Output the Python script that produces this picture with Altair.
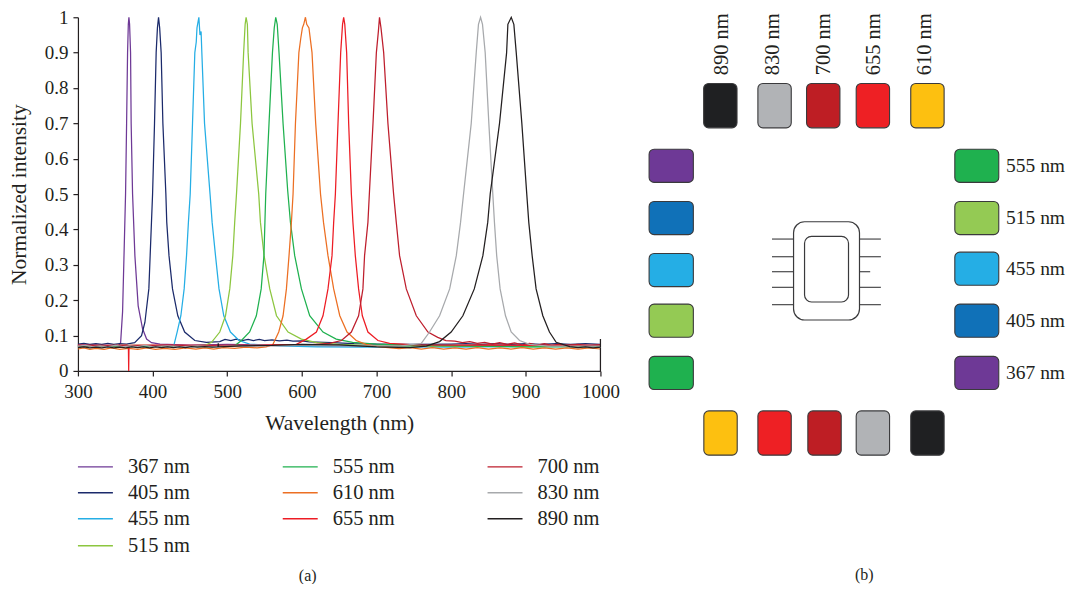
import altair as alt
import pandas as pd

# ---- spectra: (wavelength nm, normalized intensity) ----
s367 = [(300,.073),(320,.074),(340,.072),(355,.073),(357.2,.08),(359.8,.167),(361.6,.316),(363.8,.5),(365.2,.7),(366.5,.9),(367.5,.98),(368.3,1),(369.2,.98),
        (370.5,.9),(371.3,.7),(373.2,.5),(376.3,.326),(380.7,.184),(386.6,.119),(392,.09),(398.6,.08),(410,.076),(450,.073),(500,.075),
        (560,.073),(620,.071),(700,.070),(780,.071),(860,.072),(940,.071),(1000,.072)]
s405 = [(300,.076),(308,.078),(316,.075),(324,.077),(332,.075),(340,.078),(348,.075),(356,.077),(365,.076),(376,.08),(385.2,.1),(389.7,.137),(395,.232),(400,.5),(402.6,.7),(404.8,.9),(406.5,.97),(408,1),(409.5,.97),
        (411.5,.9),(413.8,.7),(417.8,.5),(419,.42),(422,.326),(426.7,.232),(433.8,.156),(443,.11),(456.6,.086),(472,.081),(490,.083),
        (497,.089),(505,.086),(512,.09),(520,.086),(528,.089),(535,.086),(543,.089),(550,.086),(560,.088),(570,.085),(580,.087),(588,.084),(600,.085),(610,.082),(640,.08),(670,.077),(700,.076),(750,.075),(800,.076),
        (820,.077),(840,.075),(860,.077),(880,.075),(900,.077),(920,.075),(940,.077),(960,.075),(980,.077),(1000,.075)]
s455 = [(300,.07),(350,.071),(400,.07),(428.5,.072),(432.9,.11),(437.9,.156),(442.3,.232),(445.5,.326),(448,.42),(450.4,.5),(453.5,.7),
        (456.6,.9),(458.5,.93),(459.5,.97),(462,1),(463.5,.95),(465,.96),(466,.9),(469.6,.7),(477,.5),(479.8,.42),(484.3,.326),(489,.232),
        (495.4,.156),(504.3,.11),(515.9,.086),(530,.076),(570,.071),(620,.068),(680,.067),(730,.068),(800,.067),(880,.069),(1000,.069)]
s515 = [(300,.071),(380,.072),(440,.071),(470,.072),(479,.081),(490,.11),(497.7,.156),(503.4,.232),(507.5,.326),(510,.42),(512.4,.5),(517.8,.7),
        (522,.9),(524,.98),(525.3,1),(527,.98),(528,.9),(533.3,.7),(542.2,.5),(544.5,.42),(549.4,.326),(557,.232),(566,.156),(581.5,.11),
        (599.4,.09),(620,.08),(650,.075),(700,.071),(800,.07),(900,.069),(1000,.07)]
s555 = [(300,.069),(400,.07),(480,.069),(510,.071),(519,.086),(530,.11),(539,.156),(545.5,.232),(549.2,.326),(550.5,.42),(551.6,.5),(556,.7),
        (560.6,.9),(563,.97),(565,1),(567,.98),(569.4,.9),(574.8,.7),(581,.51),(584.7,.42),(590.4,.326),(599.4,.232),(610.5,.156),(628.3,.11),
        (646,.09),(668,.081),(700,.076),(750,.072),(820,.07),(900,.068),(1000,.069)]
s610 = [(300,.062),(308,.065),(316,.061),(324,.064),(335,.061),(345,.065),(356,.061),(368,.064),(380,.061),(392,.065),(404,.061),(416,.064),
        (430,.061),(444,.065),(458,.062),(470,.065),(482,.062),(495,.066),(510,.064),(525,.067),(540,.065),(552,.068),(561,.074),(569,.11),
        (574.8,.156),(579.3,.232),(582.8,.326),(586,.42),(588.2,.5),(591.4,.7),(596,.9),(598.5,.94),(600.7,.97),(602.5,.98),(604.8,1),(606.5,.98),(609.5,.97),
        (613.6,.9),(618.5,.7),(625,.5),(629,.42),(635,.326),(642.6,.232),(650.8,.156),(660.5,.11),(672.8,.086),(686,.075),(705,.068),
        (730,.063),(745,.066),(760,.062),(775,.066),(790,.062),(805,.065),(820,.062),(835,.066),(850,.062),(865,.065),(880,.062),(895,.066),(910,.062),(925,.065),(940,.062),(955,.065),(970,.062),(985,.065),(1000,.062)]
s655 = [(300,.073),(340,.072),(366,.073),(367.6,.07),(368,0),(368.4,.07),(370,.072),(420,.073),(480,.072),(540,.073),(592.7,.075),(606,.09),(619.5,.11),
        (628.3,.156),(635,.232),(640.4,.326),(642.6,.42),(644.9,.5),(648.4,.7),(652,.9),(654.5,.98),(656,1),(657.5,.98),(660,.9),(662.7,.7),(666.3,.5),(668.4,.42),
        (671.6,.326),(676,.232),(681,.156),(688.5,.11),(701.9,.086),(717.6,.078),(750,.074),(800,.073),(850,.074),(900,.072),(1000,.073)]
s700 = [(300,.071),(400,.072),(500,.071),(600,.072),(637,.078),(653,.086),(666.3,.11),(676,.156),(681.8,.232),(684,.326),(688.5,.42),(690.4,.5),
        (695.3,.7),(699.8,.9),(702.5,.96),(704,1),(706,.97),(709.6,.9),(715.3,.7),(722.9,.5),(726.5,.42),(730.9,.326),(739.9,.232),(753.3,.156),
        (768.9,.11),(782,.095),(793,.086),(805,.084),(815,.08),(825,.083),(835,.078),(845,.081),(855,.076),(865,.08),(875,.075),(885,.079),(895,.074),(905,.078),(915,.073),(925,.077),(935,.072),(945,.076),(955,.072),(970,.075),(985,.071),(1000,.074)]
s830 = [(300,.07),(310,.072),(320,.069),(330,.071),(340,.069),(350,.072),(360,.069),(370,.071),(380,.069),(390,.072),(400,.069),(420,.071),(440,.069),(460,.071),(480,.069),(500,.07),(600,.072),(680,.071),(730,.07),(760,.078),(771,.11),(784.5,.156),(798,.232),(806.9,.326),(812.6,.42),
        (816.6,.5),(826.9,.7),(833.6,.9),(836.6,.98),(839.4,1),(842,.98),(845.6,.9),(850.5,.7),(855.8,.5),(858,.42),(861,.326),(865.6,.232),(872.8,.156),
        (880.4,.11),(891.6,.086),(905,.075),(930,.07),(1000,.07)]
s890 = [(300,.066),(308,.068),(316,.065),(324,.067),(332,.065),(340,.068),(348,.065),(356,.067),(364,.065),(372,.068),(380,.066),(388,.068),(396,.065),(404,.068),(412,.066),(420,.068),(428,.066),(436,.068),(444,.066),(452,.069),(460,.067),(470,.069),(480,.067),(487.5,.068),(488,.078),(488.5,.068),
        (520,.071),(560,.072),(600,.075),(650,.074),(700,.068),(745,.066),(766.7,.07),(784.5,.083),(800,.11),
        (815.7,.156),(831,.232),(842.5,.326),(849,.42),(852.3,.5),(864.8,.7),(874.3,.9),(876,.98),(880.5,1),(884,.98),(887.2,.9),(894.7,.7),(901.3,.5),
        (904,.42),(908.5,.326),(913.8,.232),(922.8,.156),(931.7,.11),(940.7,.081),(959,.069),(970,.066),(980,.068),(990,.065),(1000,.067),(1000,.09),(1000,0)]

series_names = ["367 nm","405 nm","455 nm","515 nm","555 nm","610 nm","655 nm","700 nm","830 nm","890 nm"]
series_data = [s367,s405,s455,s515,s555,s610,s655,s700,s830,s890]
line_colors = ["#6e3996","#1b2a6b","#25aee5","#8cc63f","#1fb14f","#ec6f23","#ed1c24","#be1e2d","#a7a9ac","#231f20"]

rows = []
for name, pts in zip(series_names, series_data):
    for i, (w, v) in enumerate(pts):
        rows.append({"name": name, "i": i, "w": w, "v": v})
spectra = pd.DataFrame(rows)

SERIF = "Liberation Serif"
INK = "#231f20"
TXT = 20.5
TICK = 19
BOTTOM = 584

plot_a = alt.Chart(spectra).mark_line(strokeWidth=1.25, clip=False).encode(
    x=alt.X("w:Q", scale=alt.Scale(domain=[300, 1000], nice=False),
            axis=alt.Axis(title="Wavelength (nm)", values=[300,400,500,600,700,800,900,1000], format="d",
                          grid=False, tickSize=5, labelFlush=False, labelPadding=7, titlePadding=11,
                          titleFontSize=21.5)),
    y=alt.Y("v:Q", scale=alt.Scale(domain=[0, 1], nice=False),
            axis=alt.Axis(title="Normalized intensity", values=[0,.1,.2,.3,.4,.5,.6,.7,.8,.9,1], format="~g",
                          grid=False, tickSize=5, labelPadding=5, titlePadding=14, titleFontSize=21.5)),
    color=alt.Color("name:N", scale=alt.Scale(domain=series_names, range=line_colors), legend=None),
    order=alt.Order("i:Q"),
).properties(width=523, height=354)

# ---- hand-built legend of panel (a) ----
leg_col = [0,0,0,0,1,1,1,2,2,2]
leg_row = [0,1,2,3,0,1,2,0,1,2]
leg_col_left = [78, 283, 488]
leg_col_right = [113, 318, 523]
leg_col_text = [128, 333, 538]
leg_row_y = [467, 493, 519, 546]
legend_table = pd.DataFrame({
    "name": series_names,
    "color": line_colors,
    "x1": [leg_col_left[c] for c in leg_col],
    "x2": [leg_col_right[c] for c in leg_col],
    "xt": [leg_col_text[c] for c in leg_col],
    "y": [leg_row_y[r] for r in leg_row],
})
lx = alt.Scale(domain=[78, 601], nice=False)
ly = alt.Scale(domain=[BOTTOM, 442], nice=False)
legend_lines = alt.Chart(legend_table).mark_rule(strokeWidth=1.4).encode(
    x=alt.X("x1:Q", scale=lx, axis=None), x2="x2:Q",
    y=alt.Y("y:Q", scale=ly, axis=None), color=alt.Color("color:N", scale=None))
legend_text = alt.Chart(legend_table).mark_text(align="left", baseline="middle", font=SERIF, fontSize=TXT, color=INK).encode(
    x=alt.X("xt:Q", scale=lx, axis=None), y=alt.Y("y:Q", scale=ly, axis=None), text="name:N")
cap_a = alt.Chart(pd.DataFrame({"x": [308], "y": [576], "t": ["(a)"]})).mark_text(
    font=SERIF, fontSize=16, color=INK, baseline="middle").encode(
    x=alt.X("x:Q", scale=lx, axis=None), y=alt.Y("y:Q", scale=ly, axis=None), text="t:N")
legend_panel = alt.layer(legend_lines, legend_text, cap_a).properties(width=523, height=BOTTOM-442)

# ---- panel (b): LED ring schematic, in its own schematic units ----
bx = alt.Scale(domain=[640, 1067], nice=False)
by = alt.Scale(domain=[BOTTOM, 18], nice=False)

top_names = ["890 nm","830 nm","700 nm","655 nm","610 nm"]
top_x = [720, 774.3, 823, 872.7, 927.3]
top_text_x = [721.5, 772.7, 823.7, 874, 925]
bottom_x = [720.2, 774.3, 824.3, 872.7, 927.3]
side_y_left = [166.7, 219, 271, 321.7, 374]
side_y_right = [166.7, 219, 269.7, 321.7, 374]
right_names = ["555 nm","515 nm","455 nm","405 nm","367 nm"]
top_colors = ["#1f2022","#b1b3b6","#be1e24","#ee2024","#fdc010"]
bottom_colors = ["#fdc010","#ee2024","#be1e24","#b1b3b6","#1f2022"]
left_colors = ["#6e3996","#1071b8","#25aee5","#94ca54","#1fb14f"]
right_colors = ["#1fb14f","#94ca54","#25aee5","#1071b8","#6e3996"]

boxes = []
for x, c in zip(top_x, top_colors):
    boxes.append(dict(x1=x-16.7, x2=x+16.7, y1=84.3, y2=128.7, c=c))
for x, c in zip(bottom_x, bottom_colors):
    boxes.append(dict(x1=x-16.7, x2=x+16.7, y1=412, y2=456.3, c=c))
for y, c in zip(side_y_left, left_colors):
    boxes.append(dict(x1=648.7, x2=693, y1=y-16.6, y2=y+16.6, c=c))
for y, c in zip(side_y_right, right_colors):
    boxes.append(dict(x1=954.7, x2=998.7, y1=y-16.6, y2=y+16.6, c=c))
boxes = pd.DataFrame(boxes)

box_layer = alt.Chart(boxes).mark_rect(cornerRadius=5, stroke="#3a3a3c", strokeWidth=1.1).encode(
    x=alt.X("x1:Q", scale=bx, axis=None), x2="x2:Q",
    y=alt.Y("y1:Q", scale=by, axis=None), y2="y2:Q",
    color=alt.Color("c:N", scale=None))

right_text = alt.Chart(pd.DataFrame({"x": [1006]*5, "y": side_y_right, "t": right_names})).mark_text(
    align="left", baseline="middle", font=SERIF, fontSize=19.5, color=INK).encode(
    x=alt.X("x:Q", scale=bx, axis=None), y=alt.Y("y:Q", scale=by, axis=None), text="t:N")
top_text = alt.Chart(pd.DataFrame({"x": top_text_x, "y": [76]*5, "t": top_names})).mark_text(
    align="left", baseline="middle", angle=270, font=SERIF, fontSize=TXT, color=INK).encode(
    x=alt.X("x:Q", scale=bx, axis=None), y=alt.Y("y:Q", scale=by, axis=None), text="t:N")

chip = pd.DataFrame({"x1": [793.3, 804.3], "x2": [859.3, 848.3], "y1": [222.7, 237.3], "y2": [321, 303]})
chip_outer = alt.Chart(chip.iloc[[0]]).mark_rect(cornerRadius=11, fill="white", stroke="#3a3a3c", strokeWidth=1.2).encode(
    x=alt.X("x1:Q", scale=bx, axis=None), x2="x2:Q", y=alt.Y("y1:Q", scale=by, axis=None), y2="y2:Q")
chip_inner = alt.Chart(chip.iloc[[1]]).mark_rect(cornerRadius=7, fill="white", stroke="#3a3a3c", strokeWidth=1.2).encode(
    x=alt.X("x1:Q", scale=bx, axis=None), x2="x2:Q", y=alt.Y("y1:Q", scale=by, axis=None), y2="y2:Q")

pin_y = [240, 257.7, 272.7, 288.3, 305.7]
pin_right_end = [880.7, 880.7, 870, 880.7, 880.7]
pins = pd.DataFrame(
    [dict(x1=771.7, x2=793.3, y=y) for y in pin_y] +
    [dict(x1=859.3, x2=e, y=y) for y, e in zip(pin_y, pin_right_end)])
pin_layer = alt.Chart(pins).mark_rule(color="#3a3a3c", strokeWidth=1.1).encode(
    x=alt.X("x1:Q", scale=bx, axis=None), x2="x2:Q", y=alt.Y("y:Q", scale=by, axis=None))

cap_b = alt.Chart(pd.DataFrame({"x": [864], "y": [576], "t": ["(b)"]})).mark_text(
    font=SERIF, fontSize=16, color=INK, baseline="middle").encode(
    x=alt.X("x:Q", scale=bx, axis=None), y=alt.Y("y:Q", scale=by, axis=None), text="t:N")

panel_b = alt.layer(box_layer, pin_layer, chip_outer, chip_inner, right_text, top_text, cap_b).properties(width=427, height=BOTTOM-18)

left = alt.vconcat(plot_a, legend_panel, spacing=7)
chart = alt.hconcat(left, panel_b, spacing=21).properties(
    padding={"left": 0, "top": 0, "right": 0, "bottom": 0}
).configure_view(stroke=None).configure_axis(
    labelFont=SERIF, titleFont=SERIF, labelFontSize=TICK, titleFontSize=TXT,
    labelColor=INK, titleColor=INK, titleFontWeight="normal",
    domainColor=INK, tickColor=INK, domainWidth=1.2, tickWidth=1.2,
)

chart.save("out.html", embed_options={"renderer": "svg", "actions": False})
